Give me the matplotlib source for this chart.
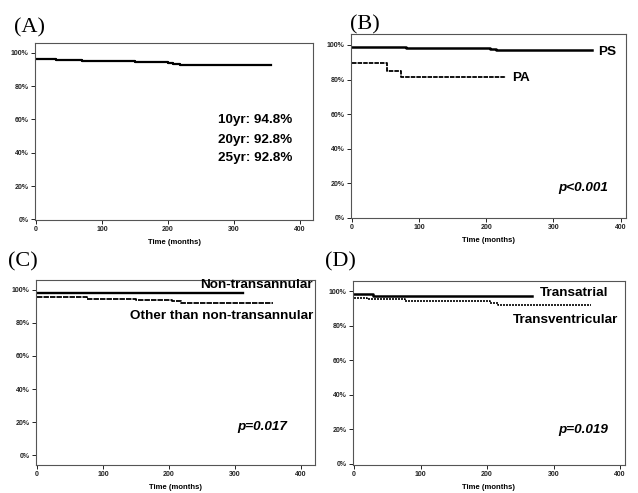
import matplotlib
matplotlib.use("Agg")
import matplotlib.pyplot as plt
from matplotlib.ticker import PercentFormatter

# survival curves (months, survival fraction)
a_t = [0, 5, 30, 70, 150, 200, 207, 218, 357]
a_s = [0.965, 0.960, 0.955, 0.950, 0.945, 0.940, 0.935, 0.928, 0.928]

ps_t = [0, 80, 150, 205, 215, 357]
ps_s = [0.988, 0.985, 0.982, 0.975, 0.968, 0.968]
pa_t = [0, 52, 73, 230]
pa_s = [0.898, 0.852, 0.812, 0.812]

nontrans_t = [0, 312]
nontrans_s = [0.982, 0.982]
other_t = [0, 15, 75, 150, 205, 218, 358]
other_s = [0.960, 0.955, 0.945, 0.940, 0.935, 0.920, 0.920]

atrial_t = [0, 29, 267]
atrial_s = [0.981, 0.974, 0.974]
ventr_t = [0, 20, 77, 150, 205, 217, 357]
ventr_s = [0.958, 0.952, 0.943, 0.940, 0.933, 0.921, 0.921]

yticks = [0, 0.2, 0.4, 0.6, 0.8, 1.0]
xticks = [0, 100, 200, 300, 400]

W, H = 638, 493
fig = plt.figure(figsize=(W / 100, H / 100), dpi=100)

sans = ['Liberation Sans', 'DejaVu Sans']
serif = ['Liberation Serif', 'DejaVu Serif']
FS = 9.7


def make_ax(l, r, t, b, xlim, ylim, label, lx, ly):
    ax = fig.add_axes([l / W, 1 - b / H, (r - l) / W, (b - t) / H])
    ax.set_xlim(*xlim)
    ax.set_ylim(*ylim)
    ax.set_xticks(xticks)
    ax.set_yticks(yticks)
    ax.yaxis.set_major_formatter(PercentFormatter(1.0, decimals=0))
    ax.tick_params(length=3, width=0.7, labelsize=5, pad=1.5, colors='#222222')
    for lab in ax.get_xticklabels() + ax.get_yticklabels():
        lab.set_fontweight('bold')
        lab.set_family(sans)
    for sp in ax.spines.values():
        sp.set_color('#555555')
        sp.set_linewidth(0.8)
    ax.set_xlabel('Time (months)', fontsize=5.5, fontweight='bold',
                  family=sans, labelpad=4)
    fig.text(lx / W, 1 - ly / H, label, fontsize=16, family=serif,
             ha='left', va='center')
    return ax


# (A)
ax = make_ax(35, 313, 43, 220, (-1.5, 420), (-0.003, 1.058), '(A)', 14, 28)
ax.step(a_t, a_s, where='post', color='black', lw=1.6)
for txt, y in [('10yr: 94.8%', 0.597), ('20yr: 92.8%', 0.477), ('25yr: 92.8%', 0.37)]:
    ax.text(389, y, txt, ha='right', va='center', fontsize=FS,
            fontweight='bold', family=sans)

# (B)
ax = make_ax(351, 626, 34, 218, (-1.5, 408), (0, 1.063), '(B)', 350, 25)
ax.step(ps_t, ps_s, where='post', color='black', lw=1.8)
ax.step(pa_t, pa_s, where='post', color='black', lw=1.3, ls=(0, (2.5, 0.6)))
ax.text(367, 0.96, 'PS', ha='left', va='center', fontsize=FS,
        fontweight='bold', family=sans)
ax.text(239, 0.81, 'PA', ha='left', va='center', fontsize=FS,
        fontweight='bold', family=sans)
ax.text(381, 0.175, 'p<0.001', ha='right', va='center', fontsize=FS,
        fontweight='bold', style='italic', family=sans)

# (C)
ax = make_ax(36, 315, 280, 465, (-1.5, 421), (-0.06, 1.06), '(C)', 8, 262)
ax.step(nontrans_t, nontrans_s, where='post', color='black', lw=1.7)
ax.step(other_t, other_s, where='post', color='black', lw=1.3, ls=(0, (3, 0.6)))
ax.text(418, 1.03, 'Non-transannular', ha='right', va='center', fontsize=FS,
        fontweight='bold', family=sans)
ax.text(418, 0.842, 'Other than non-transannular', ha='right', va='center',
        fontsize=FS, fontweight='bold', family=sans)
ax.text(379, 0.17, 'p=0.017', ha='right', va='center', fontsize=FS,
        fontweight='bold', style='italic', family=sans)

# (D)
ax = make_ax(353, 625, 281, 465, (-1.5, 407.5), (-0.006, 1.058), '(D)', 325, 262)
ax.step(atrial_t, atrial_s, where='post', color='black', lw=1.8)
ax.step(ventr_t, ventr_s, where='post', color='black', lw=1.2, ls=(0, (1.2, 0.6)))
ax.text(280, 0.988, 'Transatrial', ha='left', va='center', fontsize=FS,
        fontweight='bold', family=sans)
ax.text(239, 0.83, 'Transventricular', ha='left', va='center', fontsize=FS,
        fontweight='bold', family=sans)
ax.text(382, 0.197, 'p=0.019', ha='right', va='center', fontsize=FS,
        fontweight='bold', style='italic', family=sans)

fig.savefig('out.png', dpi=100)
